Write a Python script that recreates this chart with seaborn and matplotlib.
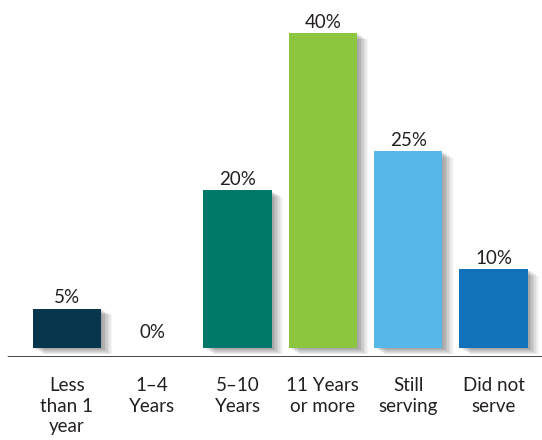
import matplotlib
matplotlib.use("Agg")
import matplotlib.pyplot as plt
import matplotlib.patheffects as pe
import seaborn as sns
import pandas as pd

categories = ["Less\nthan 1\nyear", "1–4\nYears", "5–10\nYears", "11 Years\nor more", "Still\nserving", "Did not\nserve"]
values = [5, 0, 20, 40, 25, 10]
value_labels = ["5%", "0%", "20%", "40%", "25%", "10%"]
colors = ["#08364d", "#ffffff", "#00796a", "#8cc63f", "#57b7e8", "#1172ba"]

sns.set_theme(style="white")
plt.rcParams["font.family"] = ["Lato", "DejaVu Sans"]

df = pd.DataFrame({"cat": categories, "val": values})

fig = plt.figure(figsize=(5.42, 4.40), dpi=100)
ax = fig.add_axes([0, (440 - 357) / 440, 1, 357 / 440])

sns.barplot(data=df, x="cat", y="val", hue="cat", palette=colors, legend=False,
            width=0.8, ax=ax, saturation=1)

shadow = []
for i, a in enumerate([0.07, 0.07, 0.06, 0.06, 0.05, 0.05, 0.04]):
    shadow.append(pe.SimplePatchShadow(offset=(1.5 + i * 1.1, -1.0 - i * 0.6),
                                       shadow_rgbFace="black", alpha=a))
for i, p in enumerate(ax.patches):
    p.set_edgecolor("none")
    if values[i] > 0:
        p.set_path_effects(shadow + [pe.Normal()])

px_per_unit = 7.875
ax.set_xlim(-0.785, -0.785 + 542 / 85.3)
ax.set_ylim(-9 / px_per_unit, 357 / px_per_unit - 9 / px_per_unit)

for i, (v, lab) in enumerate(zip(values, value_labels)):
    off = 3.8 if v > 0 else 7.2
    ax.annotate(lab, (i, v), xytext=(0, off), textcoords="offset points",
                ha="center", va="baseline", fontsize=13.5, color="#231f20")

for s in ["top", "right", "left", "bottom"]:
    ax.spines[s].set_visible(False)
ax.axhline(-9 / px_per_unit, xmin=8 / 542, xmax=1, color="#111111", lw=1.8)

ax.set_yticks([])
ax.set_xlabel("")
ax.set_ylabel("")
ax.tick_params(axis="x", length=0, pad=14.5, labelsize=13.5, colors="#231f20")
for t in ax.get_xticklabels():
    t.set_linespacing(1.25)

fig.savefig("out.png", dpi=100)
